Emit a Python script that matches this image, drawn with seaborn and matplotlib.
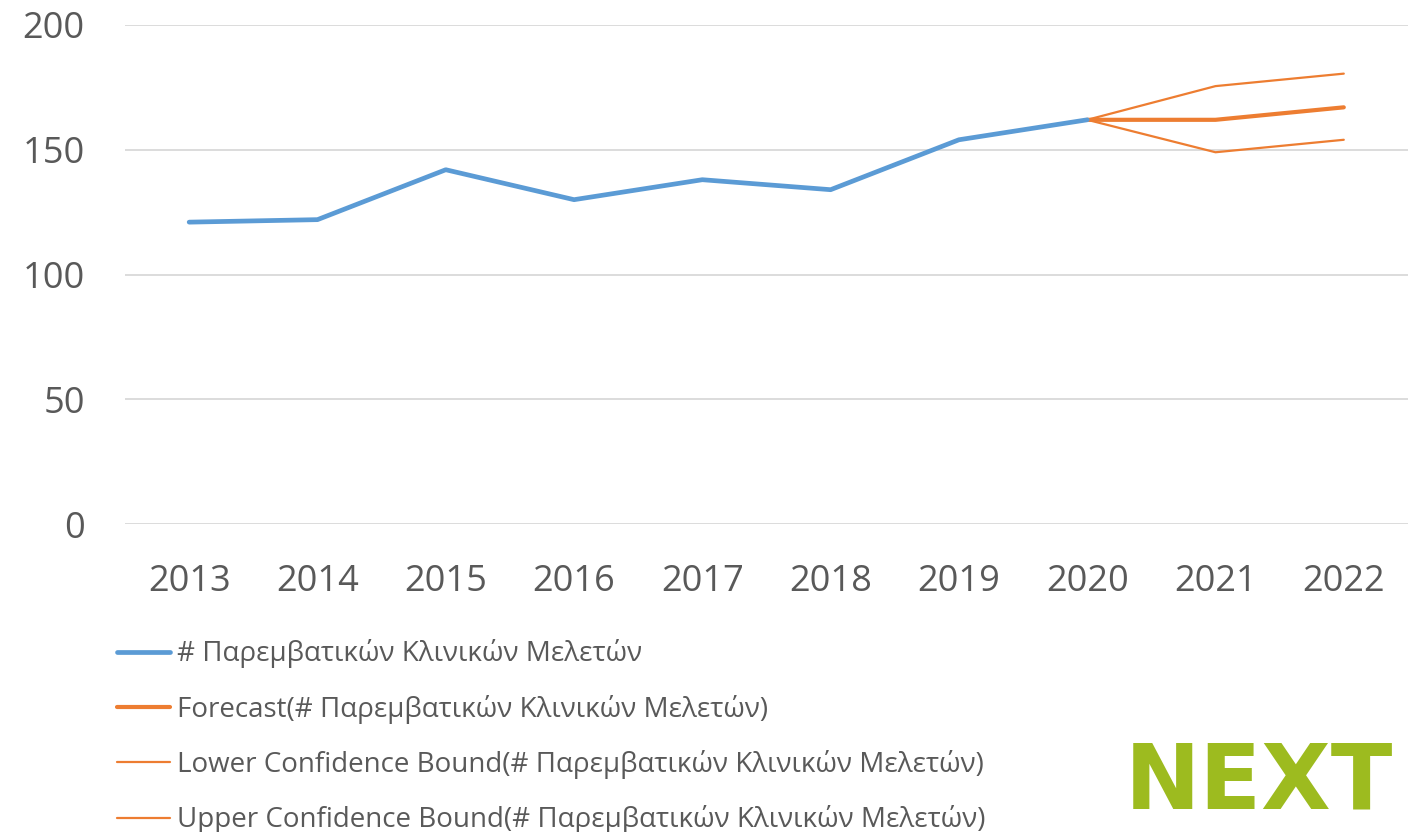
import matplotlib
matplotlib.use("Agg")
import matplotlib.pyplot as plt
import seaborn as sns
import pandas as pd
from matplotlib.lines import Line2D

years = [2013, 2014, 2015, 2016, 2017, 2018, 2019, 2020]
studies = [121, 122, 142, 130, 138, 134, 154, 162]
fc_years = [2020, 2021, 2022]
forecast = [162, 162, 167]
lower = [162, 149, 154]
upper = [162, 175.5, 180.5]
all_years = list(range(2013, 2023))
y_ticks = [0, 50, 100, 150, 200]

label_main = "# Παρεμβατικών Κλινικών Μελετών"
labels = [
    label_main,
    f"Forecast({label_main})",
    f"Lower Confidence Bound({label_main})",
    f"Upper Confidence Bound({label_main})",
]

BLUE = "#5B9BD5"
ORANGE = "#ED7D31"
TEXT = "#595959"

sns.set_theme(style="white")
plt.rcParams['font.family'] = ['Open Sans', 'DejaVu Sans']

fig = plt.figure(figsize=(14.16, 8.32), dpi=100)
ax = fig.add_axes([0.0883, 0.370, 0.906, 0.600])

hist = pd.DataFrame({'year': years, 'value': studies})
fc = pd.DataFrame({'year': fc_years, 'forecast': forecast, 'lower': lower, 'upper': upper})

sns.lineplot(data=fc, x='year', y='lower', ax=ax, color=ORANGE, linewidth=1.6)
sns.lineplot(data=fc, x='year', y='upper', ax=ax, color=ORANGE, linewidth=1.6)
sns.lineplot(data=fc, x='year', y='forecast', ax=ax, color=ORANGE, linewidth=3.0,
             solid_capstyle='round')
sns.lineplot(data=hist, x='year', y='value', ax=ax, color=BLUE, linewidth=3.4,
             solid_capstyle='round')

ax.set_xlim(all_years[0] - 0.5, all_years[-1] + 0.5)
ax.set_ylim(0, 200)
ax.set_yticks(y_ticks)
ax.set_xticks(all_years)
ax.set_xlabel('')
ax.set_ylabel('')
ax.yaxis.grid(True, color='#D9D9D9', linewidth=1.3)
ax.set_axisbelow(True)
for s in ax.spines.values():
    s.set_visible(False)
ax.tick_params(axis='y', labelsize=26, colors=TEXT, length=0, pad=29)
ax.tick_params(axis='x', labelsize=26, colors=TEXT, length=0, pad=29)

handles = [
    Line2D([], [], color=BLUE, linewidth=3.4, solid_capstyle='round'),
    Line2D([], [], color=ORANGE, linewidth=3.0, solid_capstyle='round'),
    Line2D([], [], color=ORANGE, linewidth=1.6),
    Line2D([], [], color=ORANGE, linewidth=1.6),
]
fig.legend(handles, labels, loc='upper left', bbox_to_anchor=(0.075, 0.245),
           frameon=False, fontsize=20, labelcolor=TEXT, handlelength=1.9,
           handletextpad=0.25, labelspacing=0.95, borderaxespad=0)

# logo in the lower right corner
fig.text(0.794, 0.028, "NEXT", color="#9DBB1F", fontsize=65, fontweight='bold',
         family=['Liberation Sans Narrow', 'DejaVu Sans'], ha='left', va='baseline')

fig.savefig("out.png", dpi=100)
